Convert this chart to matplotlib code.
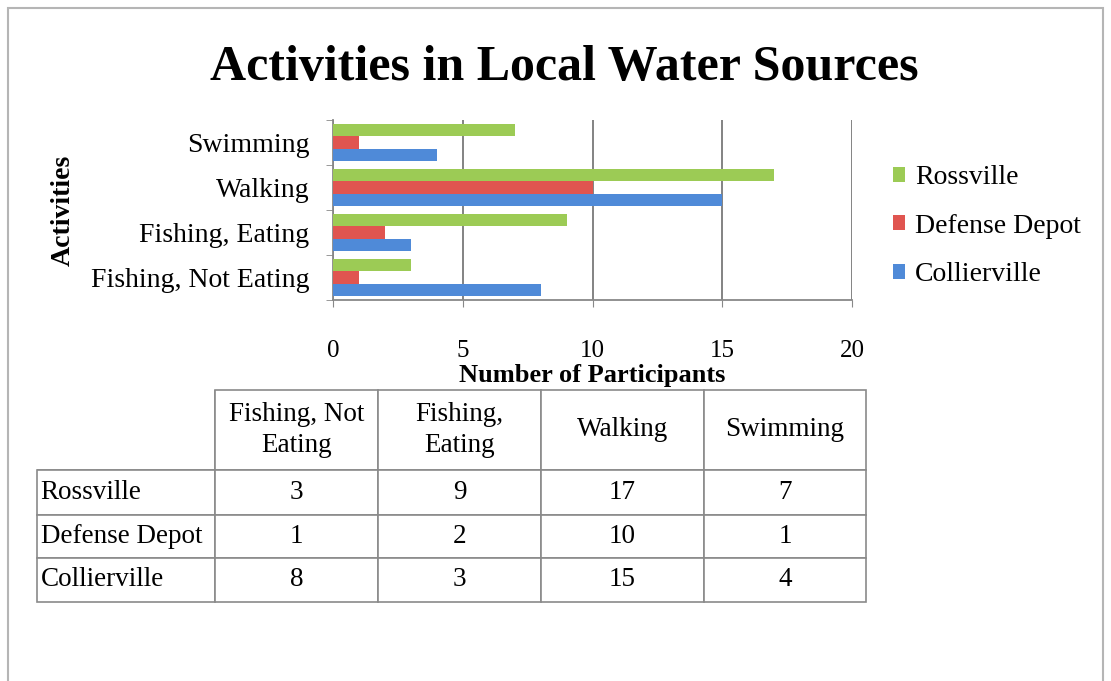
import matplotlib
matplotlib.use("Agg")
import matplotlib.pyplot as plt
import numpy as np
from matplotlib.patches import Rectangle

# data
activities = ["Fishing, Not Eating", "Fishing, Eating", "Walking", "Swimming"]
col_labels = ["Fishing, Not\nEating", "Fishing,\nEating", "Walking", "Swimming"]
sites = ["Rossville", "Defense Depot", "Collierville"]
rossville = [3, 9, 17, 7]
defense_depot = [1, 2, 10, 1]
collierville = [8, 3, 15, 4]
colors = ["#9ccb55", "#e05550", "#4f8ad8"]
xticks = [0, 5, 10, 15, 20]

plt.rcParams['font.family'] = ['Liberation Serif', 'DejaVu Serif']

fig = plt.figure(figsize=(11.11, 6.81), dpi=100)
fig.patches.append(Rectangle((8 / 1111, -0.05), 1095 / 1111, 1.05 - 8 / 681,
                             transform=fig.transFigure, fill=False,
                             edgecolor="#b5b5b5", linewidth=1.5))

fig.text(0.508, 1 - 68 / 681, "Activities in Local Water Sources",
         ha="center", va="center", fontsize=36, fontweight="bold")

ax = fig.add_axes([333 / 1111, 1 - 300 / 681, 519 / 1111, 180 / 681])
yy = np.arange(len(activities))
h = 0.27
series = [rossville, defense_depot, collierville]
for i, vals in enumerate(series):
    ax.barh(yy + h * (1 - i), vals, height=h, color=colors[i], label=sites[i], zorder=3)

ax.set_xlim(0, 20)
ax.set_ylim(-0.5, 3.5)
ax.set_xticks(xticks)
ax.set_xticklabels([str(t) for t in xticks])
ax.set_yticks(yy)
ax.set_yticklabels(activities)
ax.set_yticks(np.arange(-0.5, 4, 1), minor=True)
ax.tick_params(axis="y", which="major", length=0, pad=17, labelsize=20)
ax.tick_params(axis="y", which="minor", length=5, color="#888888")
ax.tick_params(axis="x", length=5, color="#888888", pad=24, labelsize=18)
ax.grid(axis="x", color="#7a7a7a", linewidth=1.3, zorder=0)
for s in ["top", "right"]:
    ax.spines[s].set_visible(False)
for s in ["left", "bottom"]:
    ax.spines[s].set_color("#888888")
    ax.spines[s].set_linewidth(1.3)
ax.set_xlabel("Number of Participants", fontsize=19, fontweight="bold", labelpad=1)
ax.set_ylabel("Activities", fontsize=20, fontweight="bold", labelpad=11)

ax.legend(loc="center left", bbox_to_anchor=(1.03, 0.41), frameon=False,
          fontsize=20, handlelength=0.45, handleheight=0.45, handletextpad=0.35,
          labelspacing=0.85)

# table
tax = fig.add_axes([37 / 1111, 1 - 602 / 681, 829 / 1111, 212 / 681])
tax.axis("off")
cells = [[""] + col_labels]
for name, vals in zip(sites, series):
    cells.append([name] + [str(v) for v in vals])
widths = [178, 163, 163, 163, 162]
heights = [80, 45, 43, 44]
tbl = tax.table(cellText=cells, colWidths=[w / sum(widths) for w in widths],
                bbox=[0, 0, 1, 1], cellLoc="center")
tbl.auto_set_font_size(False)
for (r, c), cell in tbl.get_celld().items():
    cell.set_height(heights[r] / sum(heights))
    cell.set_edgecolor("#8a8a8a")
    cell.set_linewidth(1.2)
    cell.get_text().set_fontsize(19.5)
    cell.get_text().set_linespacing(1.3)
    if c == 0:
        cell.get_text().set_ha("left")
        cell._loc = "left"
        cell.PAD = 0.02
tbl[(0, 0)].visible_edges = "BR"

fig.savefig("out.png", dpi=100)
